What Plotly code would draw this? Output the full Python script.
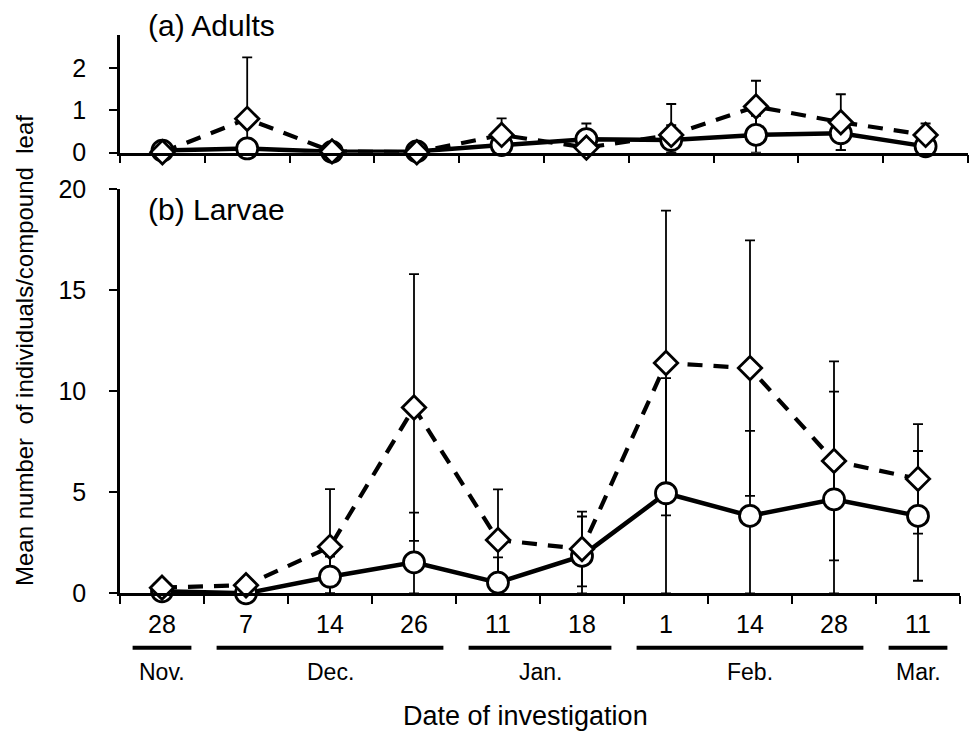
import plotly.graph_objects as go

# ---------------- data ----------------
day_labels = ["28", "7", "14", "26", "11", "18", "1", "14", "28", "11"]
month_names = ["Nov.", "Dec.", "Jan.", "Feb.", "Mar."]
month_first = [0, 1, 4, 6, 9]
month_last = [0, 3, 5, 8, 9]

# (a) Adults
adult_circle_mean = [0.05, 0.10, 0.02, 0.03, 0.18, 0.32, 0.30, 0.42, 0.46, 0.15]
adult_circle_sd = [0.05, 0.12, 0.03, 0.03, 0.20, 0.37, 0.35, 0.45, 0.40, 0.20]
adult_diamond_mean = [0.01, 0.80, 0.03, 0.01, 0.42, 0.12, 0.42, 1.09, 0.72, 0.42]
adult_diamond_sd = [0.03, 1.45, 0.05, 0.02, 0.39, 0.20, 0.73, 0.61, 0.66, 0.27]

# (b) Larvae
larva_circle_mean = [0.10, 0.00, 0.82, 1.53, 0.53, 1.85, 4.95, 3.83, 4.65, 3.83]
larva_circle_sd = [0.10, 0.00, 1.00, 2.46, 1.25, 1.95, 5.69, 4.20, 5.33, 3.21]
larva_diamond_mean = [0.28, 0.40, 2.30, 9.19, 2.64, 2.19, 11.39, 11.14, 6.55, 5.66]
larva_diamond_sd = [0.20, 0.30, 2.85, 6.60, 2.50, 1.85, 7.54, 6.32, 4.92, 2.71]

x_idx = list(range(len(day_labels)))

FONT = "Liberation Sans, Arial, sans-serif"
W, H = 973, 731

fig = go.Figure()


def minus(mean, sd):
    return [min(s, m) for m, s in zip(mean, sd)]


def add_panel(xa, ya, c_mean, c_sd, d_mean, d_sd):
    # diamond error bars (drawn underneath everything)
    fig.add_trace(go.Scatter(
        x=x_idx, y=d_mean, mode="markers", xaxis=xa, yaxis=ya,
        marker=dict(size=1, color="rgba(0,0,0,0)"),
        error_y=dict(type="data", array=d_sd, arrayminus=minus(d_mean, d_sd),
                     color="black", thickness=1.8, width=5),
        showlegend=False, hoverinfo="skip"))
    # circle series
    fig.add_trace(go.Scatter(
        x=x_idx, y=c_mean, mode="lines+markers", xaxis=xa, yaxis=ya,
        line=dict(color="black", width=4.5),
        marker=dict(symbol="circle", size=21, color="white",
                    line=dict(color="black", width=2.8)),
        error_y=dict(type="data", array=c_sd, arrayminus=minus(c_mean, c_sd),
                     color="black", thickness=1.8, width=5),
        cliponaxis=False, showlegend=False))
    # diamond series
    fig.add_trace(go.Scatter(
        x=x_idx, y=d_mean, mode="lines+markers", xaxis=xa, yaxis=ya,
        line=dict(color="black", width=4.2, dash="15px,11px"),
        marker=dict(symbol="diamond", size=18, color="white",
                    line=dict(color="black", width=2.8)),
        cliponaxis=False, showlegend=False))


add_panel("x", "y", adult_circle_mean, adult_circle_sd,
          adult_diamond_mean, adult_diamond_sd)
add_panel("x2", "y2", larva_circle_mean, larva_circle_sd,
          larva_diamond_mean, larva_diamond_sd)

boundaries = [i - 0.5 for i in range(len(day_labels) + 1)]

xcommon = dict(
    range=[-0.5, len(day_labels) - 0.5], showline=True, linecolor="black",
    linewidth=2.5, showgrid=False, zeroline=False, automargin=False,
    tickmode="array", tickvals=x_idx, ticktext=day_labels, ticks="",
    minor=dict(tickmode="array", tickvals=boundaries, ticks="outside",
               ticklen=8, tickwidth=2, tickcolor="black", showgrid=False),
    tickfont=dict(family=FONT, size=25, color="black"),
)
ycommon = dict(
    showline=True, linecolor="black", linewidth=2.5, showgrid=False,
    zeroline=False, ticks="outside", ticklen=8, tickwidth=2,
    tickcolor="black", ticklabelstandoff=18, automargin=False,
    tickfont=dict(family=FONT, size=25, color="black"),
)

fig.update_layout(
    width=W, height=H, margin=dict(l=0, r=0, t=0, b=0, autoexpand=False),
    paper_bgcolor="white", plot_bgcolor="white", showlegend=False,
    xaxis=dict(**xcommon, domain=[120 / W, 968 / W], anchor="y",
               showticklabels=False),
    yaxis=dict(**ycommon, domain=[(H - 152.7) / H, (H - 35) / H], anchor="x",
               range=[0, 2.78], tickmode="array", tickvals=[0, 1, 2]),
    xaxis2=dict(**xcommon, domain=[120 / W, 960 / W], anchor="y2",
                ticklabelstandoff=7),
    yaxis2=dict(**ycommon, domain=[(H - 593.3) / H, (H - 189) / H],
                anchor="x2", range=[0, 20], tickmode="array",
                tickvals=[0, 5, 10, 15, 20]),
)

shapes = []
annotations = []
pad = 0.35
for name, f, l in zip(month_names, month_first, month_last):
    shapes.append(dict(type="line", xref="x2", yref="paper",
                       x0=f - pad, x1=l + pad,
                       y0=(H - 647.7) / H, y1=(H - 647.7) / H,
                       line=dict(color="black", width=4)))
    annotations.append(dict(text=name, xref="x2", yref="paper",
                            x=(f + l) / 2, y=(H - 672) / H,
                            xanchor="center", yanchor="middle",
                            showarrow=False,
                            font=dict(family=FONT, size=23, color="black")))

annotations += [
    dict(text="Date of investigation", xref="paper", yref="paper",
         x=525 / W, y=(H - 716) / H, xanchor="center", yanchor="middle",
         showarrow=False, font=dict(family=FONT, size=27, color="black")),
    dict(text="Mean number  of individuals/compound  leaf", xref="paper",
         yref="paper", x=25 / W, y=(H - 351) / H, xanchor="center",
         yanchor="middle", textangle=-90, showarrow=False,
         font=dict(family=FONT, size=24, color="black")),
    dict(text="(a) Adults", xref="paper", yref="paper", x=146 / W,
         y=(H - 26) / H, xanchor="left", yanchor="middle", showarrow=False,
         font=dict(family=FONT, size=30, color="black")),
    dict(text="(b) Larvae", xref="paper", yref="paper", x=146 / W,
         y=(H - 210) / H, xanchor="left", yanchor="middle", showarrow=False,
         font=dict(family=FONT, size=30, color="black")),
]

fig.update_layout(shapes=shapes, annotations=annotations)

fig.write_html("out.html")
